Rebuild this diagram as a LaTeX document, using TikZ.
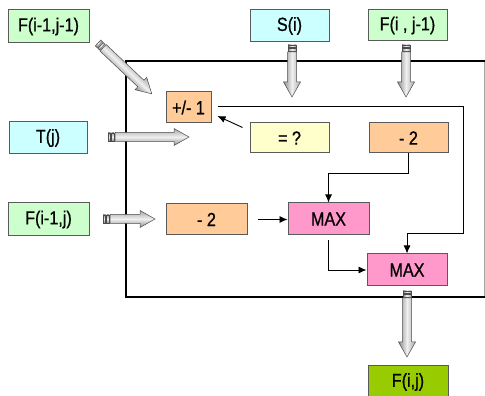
\documentclass[tikz,border=0pt]{standalone}
\usepackage{fontspec}
\setmainfont{Liberation Sans}
\newfontfamily\lblfont{Liberation Sans}[FakeStretch=0.85, FakeBold=0.8]
\usetikzlibrary{arrows.meta,calc}

\definecolor{inGreen}{HTML}{CCFFCC}
\definecolor{inCyan}{HTML}{CCFFFF}
\definecolor{opOrange}{HTML}{FFCC99}
\definecolor{opYellow}{HTML}{FFFFCC}
\definecolor{opPink}{HTML}{FF99CC}
\definecolor{outGreen}{HTML}{99CC00}
\definecolor{boxline}{HTML}{5A5A5A}

% Shaded block arrow: #1 tail coordinate, #2 direction angle, #3 length
\newcommand\fatarrow[3]{%
  \begin{scope}[transform canvas={shift={(#1)},rotate=#2}]
    \path[fatbody] (0,-4) rectangle (2.5,4);
    \path[fatbody] (3.5,-4) rectangle (6,4);
    \path[fatbody] (7,-4.5) -- (#3-15,-4.5) -- (#3-15,-8.5) -- (#3,0)
      -- (#3-15,8.5) -- (#3-15,4.5) -- (7,4.5) -- cycle;
  \end{scope}}

\begin{document}
\begin{tikzpicture}[x=1pt,y=1pt,
  box/.style={draw=boxline, line width=1pt, inner sep=0pt,
    minimum width=80pt, minimum height=32pt,
    font=\lblfont\fontsize{19}{20}\selectfont},
  link/.style={line width=0.9pt, -{Latex[length=8pt,width=7pt]}},
  fatbody/.style={draw=gray!60!black, line width=0.5pt,
    top color=gray!70, bottom color=gray!90, middle color=gray!12},
]
\useasboundingbox (0,0) rectangle (485,396);

% processing frame
\draw[gray!70, line width=0.8pt] (484,335) -- (484,99);
\draw[line width=2pt] (486,335) -- (126,335) -- (126,99) -- (486,99);

% inputs
\node[box, fill=inGreen, minimum width=81pt, minimum height=33pt] (Fa) at (48.5,369.5) {F(i-1,j-1)};
\node[box, fill=inCyan, minimum width=78pt] (T) at (48,258) {T(j)};
\node[box, fill=inCyan, minimum width=79pt] (S) at (289.5,370) {S(i)};
\node[box, fill=inGreen, minimum width=79pt, minimum height=31pt] (Fb) at (407.5,370.5) {F(i , j-1)};
\node[box, fill=inGreen, minimum width=81pt, minimum height=33pt] (Fc) at (48.5,176.5) {F(i-1,j)};

% operations
\node[box, fill=opOrange, minimum width=45pt, minimum height=31pt] (pm) at (188.5,288.5) {+/- 1};
\node[box, fill=opYellow, minimum width=79pt, minimum height=30pt] (eq) at (289.5,258) {= ?};
\node[box, fill=opOrange, minimum width=79pt, minimum height=30pt] (m2a) at (408.5,258) {- 2};
\node[box, fill=opOrange, minimum width=81pt, minimum height=31pt] (m2b) at (206.5,176.5) {- 2};
\node[box, fill=opPink, minimum width=81pt] (max1) at (328.5,177) {MAX};
\node[box, fill=opPink, minimum width=80pt] (max2) at (407,126) {MAX};

% output
\node[box, fill=outGreen, minimum width=80pt] (out) at (408,14) {F(i,j)};

% internal connections
\coordinate (bend) at (463,163);
\draw[link] ($(pm.east)+(6,1.5)$) -| (bend) -| (max2.north);
\draw[link] ($(eq.north west)+(-7,-5)$) -- ($(pm.east)+(6,-8.5)$);
\draw[link] (m2a.south) -- ++(0,-20) -| (max1.north);
\draw[link, shorten <=10pt] (m2b.east) -- (m2b.east -| max1.west);
\draw[link] ($(max1.south)+(0,-5)$) |- (max2.west);

% block arrows
\coordinate (aFa) at (98,353);
\coordinate (aT) at (108,259);
\coordinate (aS) at (292,351);
\coordinate (aFb) at (406,351);
\coordinate (aFc) at (103,177);
\coordinate (aOut) at (407,105);
\fatarrow{aFa}{-43.4}{74}
\fatarrow{aT}{0}{81}
\fatarrow{aS}{-90}{52}
\fatarrow{aFb}{-90}{52}
\fatarrow{aFc}{0}{52}
\fatarrow{aOut}{-90}{66}
\end{tikzpicture}
\end{document}
